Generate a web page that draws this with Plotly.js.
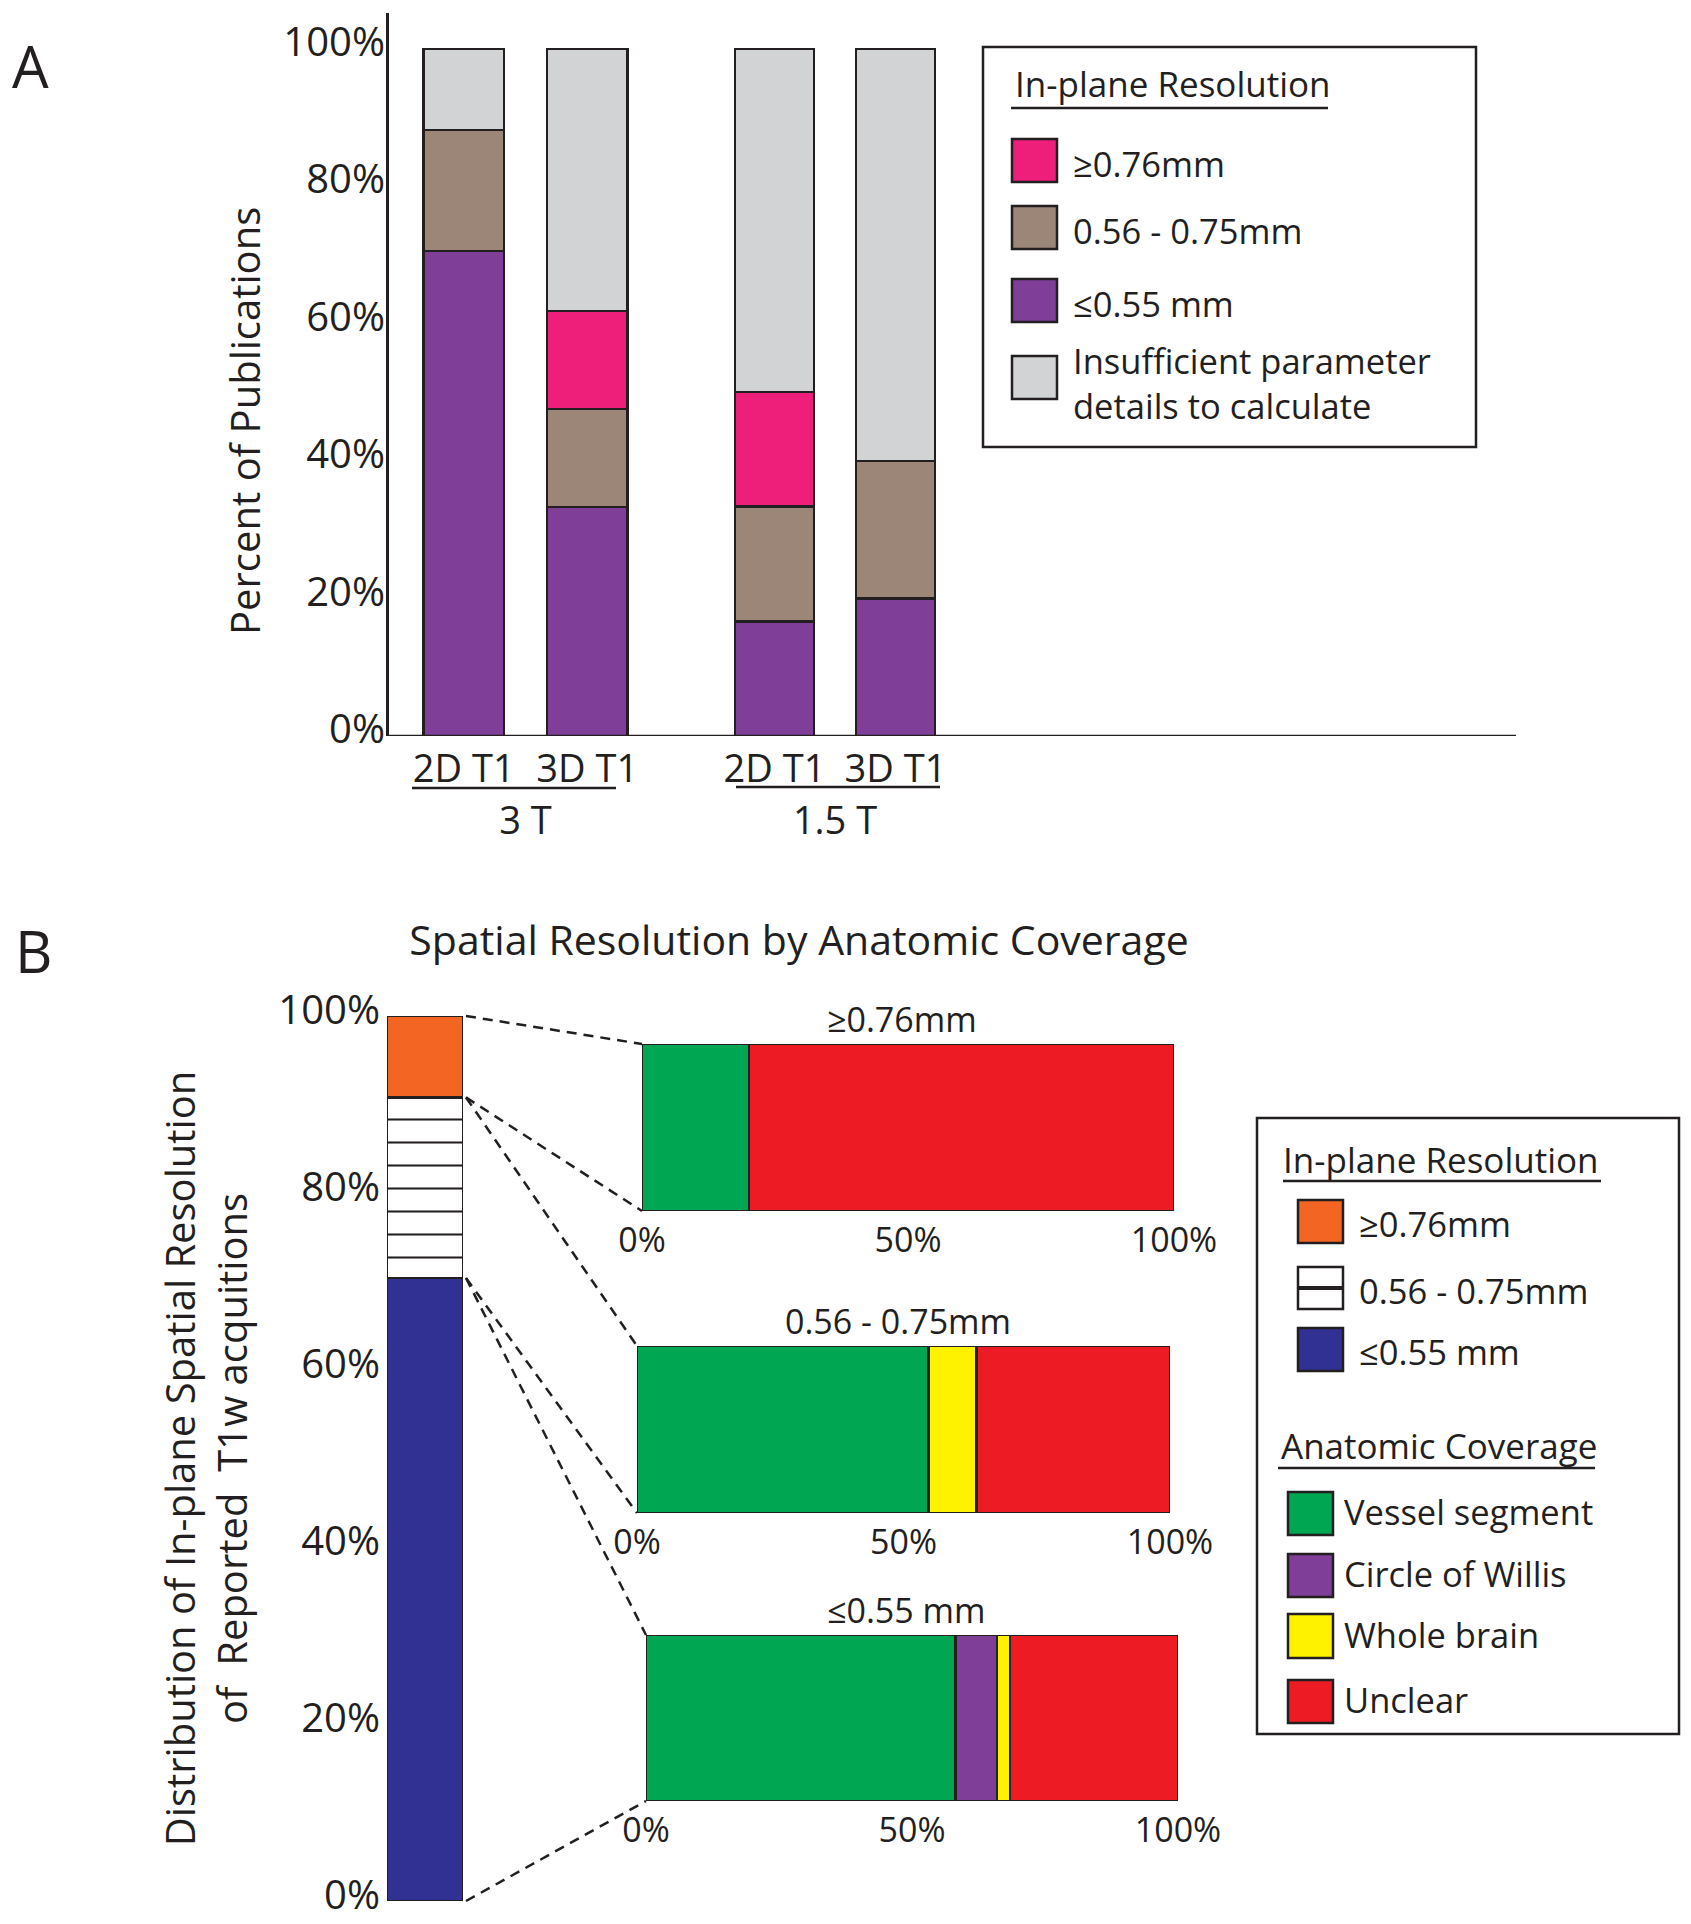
<!DOCTYPE html>
<html><head><meta charset="utf-8">
<script src="https://cdn.plot.ly/plotly-3.0.1.min.js"></script>
<style>html,body{margin:0;padding:0;background:#fff;}</style>
</head><body>
<div id="chart" style="width:1691px;height:1924px;"></div>
<script>
// ================= DATA =================
// Panel A: percent of publications by field strength and sequence
const fieldStrengths = ['3 T', '1.5 T'];
const sequences = ['2D T1', '3D T1'];
const resolutionClassesA = ['≤0.55 mm', '0.56 - 0.75mm', '≥0.76mm', 'Insufficient parameter<br>details to calculate'];
const le055_3T = [70.6, 33.3];
const mid_3T = [17.6, 14.3];
const ge076_3T = [0, 14.3];
const insufficient_3T = [11.8, 38.1];
const le055_15T = [16.7, 20.0];
const mid_15T = [16.7, 20.0];
const ge076_15T = [16.7, 0];
const insufficient_15T = [49.9, 60.0];
const yTicksA = [0, 20, 40, 60, 80, 100];
const yTickLabelsA = ['0%', '20%', '40%', '60%', '80%', '100%'];
const legendOrderA = ['≥0.76mm', '0.56 - 0.75mm', '≤0.55 mm', 'Insufficient parameter<br>details to calculate'];

// Panel B: distribution of in-plane resolution and anatomic coverage
const resolutionClassesB = ['≤0.55 mm', '0.56 - 0.75mm', '≥0.76mm'];
const resolutionShareB = [70.4, 20.4, 9.2];
const coverageLabels = ['Vessel segment', 'Circle of Willis', 'Whole brain', 'Unclear'];
const coverage_ge076 = [20.1, 0, 0, 79.9];
const coverage_mid = [54.7, 0, 9.0, 36.3];
const coverage_le055 = [58.2, 7.8, 2.4, 31.6];
const yTicksB = [0, 20, 40, 60, 80, 100];
const yTickLabelsB = ['0%', '20%', '40%', '60%', '80%', '100%'];
const xTicksB = [0, 50, 100];
const xTickLabelsB = ['0%', '50%', '100%'];
const legendOrderB = ['≥0.76mm', '0.56 - 0.75mm', '≤0.55 mm'];

// ================= STYLE / LAYOUT =================
const W = 1691, H = 1924;
const fx = p => p / W;
const fy = p => 1 - p / H;
const INK = '#231f20';
const FONT = 'Open Sans, Noto Sans, sans-serif';
const edge = {color: INK, width: 2.5};

const colorA = {
  '≤0.55 mm': '#7f3f98',
  '0.56 - 0.75mm': '#9c8677',
  '≥0.76mm': '#ed1f7b',
  'Insufficient parameter<br>details to calculate': '#d1d3d4'
};
const colorResB = {'≤0.55 mm': '#303192', '0.56 - 0.75mm': '#ffffff', '≥0.76mm': '#f26522'};
const colorCov = ['#00a651', '#7f3f98', '#fff200', '#ed1c24'];

const seriesA = {
  '3 T': [le055_3T, mid_3T, ge076_3T, insufficient_3T],
  '1.5 T': [le055_15T, mid_15T, ge076_15T, insufficient_15T]
};
const coverageByRes = {'≥0.76mm': coverage_ge076, '0.56 - 0.75mm': coverage_mid, '≤0.55 mm': coverage_le055};

// pixel frames
const A = {axisX: 387, right: 1516, top: 13, base: 736, y100: 49};
const Adom = {'3 T': [402, 649], '1.5 T': [714, 956]};
const Bleft = {x0: 387, x1: 463, top: 1016, bottom: 1901};
const Bright = {
  '≥0.76mm': {x0: 642, x1: 1174, top: 1044, bottom: 1211},
  '0.56 - 0.75mm': {x0: 637, x1: 1170, top: 1346, bottom: 1513},
  '≤0.55 mm': {x0: 646, x1: 1178, top: 1635, bottom: 1801}
};

const traces = [];
const layout = {
  width: W, height: H, autosize: false,
  margin: {l: 0, r: 0, t: 0, b: 0},
  paper_bgcolor: '#ffffff', plot_bgcolor: 'rgba(0,0,0,0)',
  showlegend: false, barmode: 'stack',
  font: {family: FONT, color: INK, size: 34},
  title: {text: 'Spatial Resolution by Anatomic Coverage', x: fx(799), xanchor: 'center',
          y: fy(941), yanchor: 'middle', xref: 'paper', yref: 'paper',
          font: {family: FONT, size: 41, color: INK}},
  shapes: [], annotations: []
};

// ---------- Panel A ----------
fieldStrengths.forEach((f, fi) => {
  const ax = fi === 0 ? 'x' : 'x2';
  resolutionClassesA.forEach((r, ri) => {
    traces.push({type: 'bar', name: r, x: sequences, y: seriesA[f][ri], xaxis: ax, yaxis: 'y',
      width: 0.65, marker: {color: colorA[r], line: edge}, hoverinfo: 'skip'});
  });
  layout[fi === 0 ? 'xaxis' : 'xaxis2'] = {
    domain: [fx(Adom[f][0]), fx(Adom[f][1])], anchor: 'y', type: 'category',
    categoryarray: sequences, range: [-0.5, 1.5],
    showline: false, showgrid: false, zeroline: false, ticks: '',
    tickfont: {size: 38, color: INK}, ticklabelstandoff: 7,
    title: {text: f, font: {size: 38, color: INK}, standoff: 10}
  };
  // group underline beneath sequence labels
  const ul = fi === 0 ? [412, 616, 788] : [736, 940, 787];
  layout.shapes.push({type: 'line', xref: 'paper', yref: 'paper', x0: fx(ul[0]), x1: fx(ul[1]),
    y0: fy(ul[2]), y1: fy(ul[2]), line: {color: INK, width: 2.5}});
});
layout.yaxis = {
  domain: [fy(A.base), fy(A.top)], range: [0, 100 * (A.base - A.top) / (A.base - A.y100)],
  anchor: 'free', position: fx(A.axisX), showline: true, linecolor: INK, linewidth: 2.5,
  showgrid: false, zeroline: false, ticks: '', tickmode: 'array', tickvals: yTicksA, ticktext: yTickLabelsA,
  tickfont: {size: 40, color: INK}, ticklabelshift: -7, ticklabelstandoff: -7, ticklabeloverflow: 'allow'
};
// baseline of panel A
layout.shapes.push({type: 'line', xref: 'paper', yref: 'y', x0: fx(A.axisX), x1: fx(A.right), y0: 0, y1: 0,
  line: {color: INK, width: 2.5}});
// y title of panel A
layout.annotations.push({text: 'Percent of Publications', xref: 'paper', yref: 'paper', x: fx(245), y: fy(421),
  xanchor: 'center', yanchor: 'middle', textangle: -90, showarrow: false, font: {size: 40, color: INK}});
layout.annotations.push({text: 'A', xref: 'paper', yref: 'paper', x: fx(31), y: fy(66), xanchor: 'center',
  yanchor: 'middle', showarrow: false, font: {size: 58, color: INK}});

function legendBox(box) {
  layout.shapes.push({type: 'rect', xref: 'paper', yref: 'paper', x0: fx(box[0]), x1: fx(box[1]),
    y0: fy(box[2]), y1: fy(box[3]), line: {color: INK, width: 2.5}, fillcolor: 'rgba(0,0,0,0)'});
}
function addSwatch(x0, x1, y0, y1, color, striped) {
  layout.shapes.push({type: 'rect', xref: 'paper', yref: 'paper', x0: fx(x0), x1: fx(x1), y0: fy(y0), y1: fy(y1),
    line: {color: INK, width: 2.5}, fillcolor: color});
  if (striped) {
    const ym = (y0 + y1) / 2;
    layout.shapes.push({type: 'line', xref: 'paper', yref: 'paper', x0: fx(x0), x1: fx(x1), y0: fy(ym), y1: fy(ym),
      line: {color: INK, width: 4}});
  }
}
function addLabel(text, x, y, size, anchor) {
  layout.annotations.push({text: text, xref: 'paper', yref: 'paper', x: fx(x), y: fy(y), xanchor: anchor || 'left',
    yanchor: 'middle', align: 'left', showarrow: false, font: {size: size, color: INK}});
}
function addUnderline(x0, x1, y) {
  layout.shapes.push({type: 'line', xref: 'paper', yref: 'paper', x0: fx(x0), x1: fx(x1), y0: fy(y), y1: fy(y),
    line: {color: INK, width: 2.5}});
}

// Legend A
legendBox([983, 1476, 47, 447]);
addLabel('In-plane Resolution', 1013, 84, 35);
addUnderline(1011, 1328, 108);
const rowsA = [[139, 182], [206, 249], [279, 322], [356, 399]];
legendOrderA.forEach((r, i) => {
  addSwatch(1012, 1057, rowsA[i][0], rowsA[i][1], colorA[r], false);
  addLabel(r, 1071, (rowsA[i][0] + rowsA[i][1]) / 2 + (i === 3 ? 5 : 3), 34.5);
});

// ---------- Panel B: left column ----------
resolutionClassesB.forEach((r, i) => {
  const striped = r === '0.56 - 0.75mm';
  const m = {color: colorResB[r], line: edge};
  if (striped) m.pattern = {shape: '-', fgcolor: INK, bgcolor: '#ffffff', size: 23, solidity: 0.09, fillmode: 'replace'};
  traces.push({type: 'bar', name: r, x: ['All T1w acquisitions'], y: [resolutionShareB[i]], xaxis: 'x3', yaxis: 'y3',
    width: 1, marker: m, hoverinfo: 'skip'});
});
layout.xaxis3 = {domain: [fx(Bleft.x0), fx(Bleft.x1)], anchor: 'y3', type: 'category', range: [-0.5, 0.5],
  showticklabels: false, showline: false, showgrid: false, zeroline: false, ticks: ''};
layout.yaxis3 = {domain: [fy(Bleft.bottom), fy(Bleft.top)], anchor: 'x3', range: [0, 100],
  showline: false, showgrid: false, zeroline: false, ticks: '', tickmode: 'array',
  tickvals: yTicksB, ticktext: yTickLabelsB, ticklabeloverflow: 'allow',
  tickfont: {size: 40, color: INK}, ticklabelshift: -6, ticklabelstandoff: 6,
  title: {text: 'Distribution of In-plane Spatial Resolution<br>of  Reported  T1w acquitions',
          font: {size: 40, color: INK}, standoff: 18}};
layout.annotations.push({text: 'B', xref: 'paper', yref: 'paper', x: fx(33), y: fy(951), xanchor: 'center',
  yanchor: 'middle', showarrow: false, font: {size: 58, color: INK}});

// ---------- Panel B: coverage bars ----------
legendOrderB.forEach((r, k) => {
  const n = k + 4;
  const fr = Bright[r];
  coverageLabels.forEach((c, ci) => {
    traces.push({type: 'bar', orientation: 'h', name: c, y: [r], x: [coverageByRes[r][ci]],
      xaxis: 'x' + n, yaxis: 'y' + n, width: 1, marker: {color: colorCov[ci], line: edge}, hoverinfo: 'skip'});
  });
  layout['xaxis' + n] = {domain: [fx(fr.x0), fx(fr.x1)], anchor: 'y' + n, range: [0, 100],
    tickmode: 'array', tickvals: xTicksB, ticktext: xTickLabelsB, ticks: '', ticklabeloverflow: 'allow',
    showline: false, showgrid: false, zeroline: false,
    tickfont: {size: 34, color: INK}, ticklabelstandoff: 6};
  layout['yaxis' + n] = {domain: [fy(fr.bottom), fy(fr.top)], anchor: 'x' + n, type: 'category',
    range: [-0.5, 0.5], showticklabels: false, showline: false, showgrid: false, zeroline: false, ticks: ''};
  layout.annotations.push({text: r, xref: 'x' + n + ' domain', yref: 'y' + n + ' domain', x: 0.5, y: 1,
    xanchor: 'center', yanchor: 'bottom', xshift: -6, yshift: 0, showarrow: false, font: {size: 34, color: INK}});
});

// dashed connectors: left column boundaries -> right bar corners
const cum = [0];
resolutionShareB.forEach(v => cum.push(cum[cum.length - 1] + v));
const leftY = v => Bleft.bottom - v / 100 * (Bleft.bottom - Bleft.top);
const links = [
  [cum[3], Bright['≥0.76mm'].x0, Bright['≥0.76mm'].top],
  [cum[2], Bright['≥0.76mm'].x0, Bright['≥0.76mm'].bottom],
  [cum[2], Bright['0.56 - 0.75mm'].x0, Bright['0.56 - 0.75mm'].top],
  [cum[1], Bright['0.56 - 0.75mm'].x0, Bright['0.56 - 0.75mm'].bottom],
  [cum[1], Bright['≤0.55 mm'].x0, Bright['≤0.55 mm'].top],
  [cum[0], Bright['≤0.55 mm'].x0, Bright['≤0.55 mm'].bottom]
];
links.forEach(l => {
  layout.shapes.push({type: 'line', xref: 'paper', yref: 'paper', x0: fx(Bleft.x1 + 3), y0: fy(leftY(l[0])),
    x1: fx(l[1]), y1: fy(l[2]), line: {color: INK, width: 2.5, dash: '10px,7px'}, layer: 'below'});
});

// Legend B
legendBox([1257, 1679, 1118, 1734]);
addLabel('In-plane Resolution', 1281, 1159, 35);
addUnderline(1283, 1601, 1181);
const rowsB1 = [[1200, 1243], [1267, 1309], [1328, 1371]];
legendOrderB.forEach((r, i) => {
  addSwatch(1298, 1343, rowsB1[i][0], rowsB1[i][1], colorResB[r], r === '0.56 - 0.75mm');
  addLabel(r, 1357, (rowsB1[i][0] + rowsB1[i][1]) / 2 + 2, 34.5);
});
addLabel('Anatomic Coverage', 1279, 1445, 35);
addUnderline(1278, 1595, 1468);
const rowsB2 = [[1492, 1535], [1554, 1597], [1614, 1658], [1680, 1723]];
coverageLabels.forEach((c, i) => {
  addSwatch(1288, 1333, rowsB2[i][0], rowsB2[i][1], colorCov[i], false);
  addLabel(c, 1342, (rowsB2[i][0] + rowsB2[i][1]) / 2 - 2, 34.5);
});

Plotly.newPlot('chart', traces, layout, {staticPlot: true, displayModeBar: false});
</script>
</body></html>
